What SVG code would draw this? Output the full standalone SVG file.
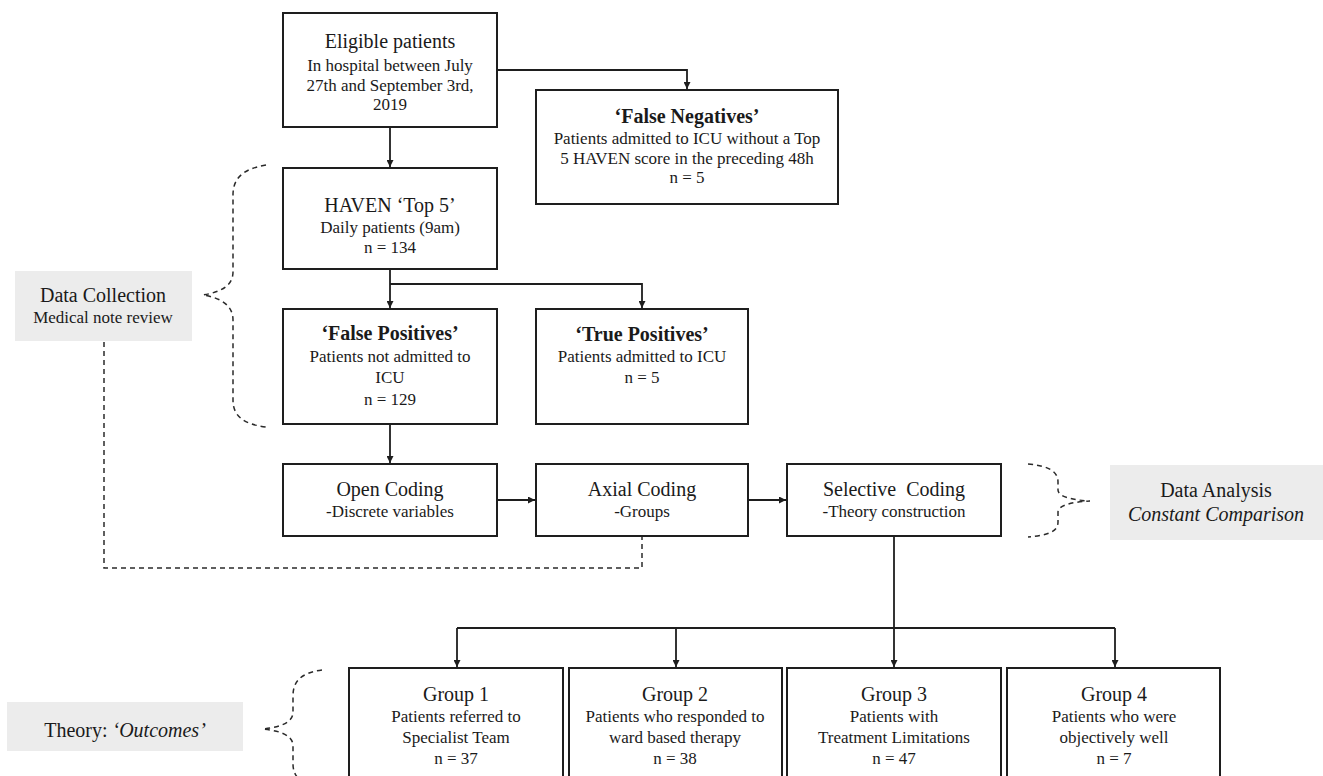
<svg xmlns="http://www.w3.org/2000/svg" width="1323" height="776" viewBox="0 0 1323 776">
<style>
.box{fill:#fff;stroke:#1e1e1e;stroke-width:2}
.gbox{fill:#ececec;stroke:none}
.t{font-family:"Liberation Serif","Times New Roman",serif;fill:#1a1a1a;text-anchor:middle}
.h{font-size:20px}
.hb{font-size:20px;font-weight:bold}
.s{font-size:17px}
.i{font-style:italic}
.ln{fill:none;stroke:#1e1e1e;stroke-width:1.8}
.dash{fill:none;stroke:#2a2a2a;stroke-width:1.5;stroke-dasharray:5 4}
</style>
<defs>
<marker id="arr" viewBox="0 0 10 10" refX="10" refY="5" markerWidth="7" markerHeight="7" markerUnits="userSpaceOnUse" orient="auto">
<path d="M0,0 L10,5 L0,10 z" fill="#1e1e1e"/>
</marker>
</defs>

<g id="connectors">
<path class="ln" d="M497,70 H687 V89" marker-end="url(#arr)"/>
<path class="ln" d="M390,127 V167" marker-end="url(#arr)"/>
<path class="ln" d="M390,269 V308" marker-end="url(#arr)"/>
<path class="ln" d="M390,284 H642 V308" marker-end="url(#arr)"/>
<path class="ln" d="M390,424 V463" marker-end="url(#arr)"/>
<path class="ln" d="M497,500 H535" marker-end="url(#arr)"/>
<path class="ln" d="M748,500 H786" marker-end="url(#arr)"/>
<path class="ln" d="M894,536 V667" marker-end="url(#arr)"/>
<path class="ln" d="M457,628 H1115"/>
<path class="ln" d="M457,628 V667" marker-end="url(#arr)"/>
<path class="ln" d="M676,628 V667" marker-end="url(#arr)"/>
<path class="ln" d="M1115,628 V667" marker-end="url(#arr)"/>
<path class="dash" d="M104,342 V568 H642 V537"/>
<path id="brace-collection" class="dash" d="M266,165 C242,169 233,179 233,195 L233,272 C233,285 222,292 203,295 C222,298 233,306 233,320 L233,400 C233,415 242,424 266,427"/>
<path id="brace-analysis" class="dash" d="M1028,464 C1050,466 1058,472 1058,482 L1058,490 C1058,496 1070,500 1090,501 C1070,502 1058,506 1058,512 L1058,522 C1058,531 1050,535 1028,537"/>
<path id="brace-theory" class="dash" d="M322,670 C300,673 293,682 293,696 L293,712 C293,722 282,727 263,729 C282,731 293,736 293,746 L293,764 C293,776 300,784 320,788"/>
</g>

<g id="eligible">
<rect class="box" x="283" y="13" width="214" height="114"/>
<text class="t h" x="390" y="48">Eligible patients</text>
<text class="t s" x="390" y="71">In hospital between July</text>
<text class="t s" x="390" y="91">27th and September 3rd,</text>
<text class="t s" x="390" y="110">2019</text>
</g>

<g id="false-negatives">
<rect class="box" x="536" y="90" width="302" height="114"/>
<text class="t hb" x="687" y="123">‘False Negatives’</text>
<text class="t s" x="687" y="144">Patients admitted to ICU without a Top</text>
<text class="t s" x="687" y="164">5 HAVEN score in the preceding 48h</text>
<text class="t s" x="687" y="183">n = 5</text>
</g>

<g id="haven">
<rect class="box" x="283" y="168" width="214" height="101"/>
<text class="t h" x="390" y="212">HAVEN ‘Top 5’</text>
<text class="t s" x="390" y="233">Daily patients (9am)</text>
<text class="t s" x="390" y="253">n = 134</text>
</g>

<g id="false-positives">
<rect class="box" x="283" y="309" width="214" height="115"/>
<text class="t hb" x="390" y="340">‘False Positives’</text>
<text class="t s" x="390" y="362">Patients not admitted to</text>
<text class="t s" x="390" y="383">ICU</text>
<text class="t s" x="390" y="405">n = 129</text>
</g>

<g id="true-positives">
<rect class="box" x="536" y="309" width="212" height="115"/>
<text class="t hb" x="642" y="341">‘True Positives’</text>
<text class="t s" x="642" y="362">Patients admitted to ICU</text>
<text class="t s" x="642" y="383">n = 5</text>
</g>

<g id="data-collection">
<rect class="gbox" x="15" y="271" width="177" height="70"/>
<text class="t h" x="103" y="302">Data Collection</text>
<text class="t s" x="103" y="323">Medical note review</text>
</g>

<g id="open-coding">
<rect class="box" x="283" y="464" width="214" height="72"/>
<text class="t h" x="390" y="496">Open Coding</text>
<text class="t s" x="390" y="517">-Discrete variables</text>
</g>

<g id="axial-coding">
<rect class="box" x="536" y="464" width="212" height="72"/>
<text class="t h" x="642" y="496">Axial Coding</text>
<text class="t s" x="642" y="517">-Groups</text>
</g>

<g id="selective-coding">
<rect class="box" x="787" y="464" width="214" height="72"/>
<text class="t h" x="894" y="496" xml:space="preserve">Selective  Coding</text>
<text class="t s" x="894" y="517">-Theory construction</text>
</g>

<g id="data-analysis">
<rect class="gbox" x="1110" y="465" width="213" height="75"/>
<text class="t h" x="1216" y="497">Data Analysis</text>
<text class="t h i" x="1216" y="521">Constant Comparison</text>
</g>

<g id="theory">
<rect class="gbox" x="7" y="702" width="236" height="49"/>
<text class="t h" x="125" y="737">Theory: <tspan class="i">‘Outcomes’</tspan></text>
</g>

<g id="group1">
<rect class="box" x="349" y="668" width="214" height="130"/>
<text class="t h" x="456" y="701">Group 1</text>
<text class="t s" x="456" y="722">Patients referred to</text>
<text class="t s" x="456" y="743">Specialist Team</text>
<text class="t s" x="456" y="764">n = 37</text>
</g>

<g id="group2">
<rect class="box" x="569" y="668" width="213" height="130"/>
<text class="t h" x="675" y="701">Group 2</text>
<text class="t s" x="675" y="722">Patients who responded to</text>
<text class="t s" x="675" y="743">ward based therapy</text>
<text class="t s" x="675" y="764">n = 38</text>
</g>

<g id="group3">
<rect class="box" x="787" y="668" width="214" height="130"/>
<text class="t h" x="894" y="701">Group 3</text>
<text class="t s" x="894" y="722">Patients with</text>
<text class="t s" x="894" y="743">Treatment Limitations</text>
<text class="t s" x="894" y="764">n = 47</text>
</g>

<g id="group4">
<rect class="box" x="1007" y="668" width="213" height="130"/>
<text class="t h" x="1114" y="701">Group 4</text>
<text class="t s" x="1114" y="722">Patients who were</text>
<text class="t s" x="1114" y="743">objectively well</text>
<text class="t s" x="1114" y="764">n = 7</text>
</g>
</svg>
